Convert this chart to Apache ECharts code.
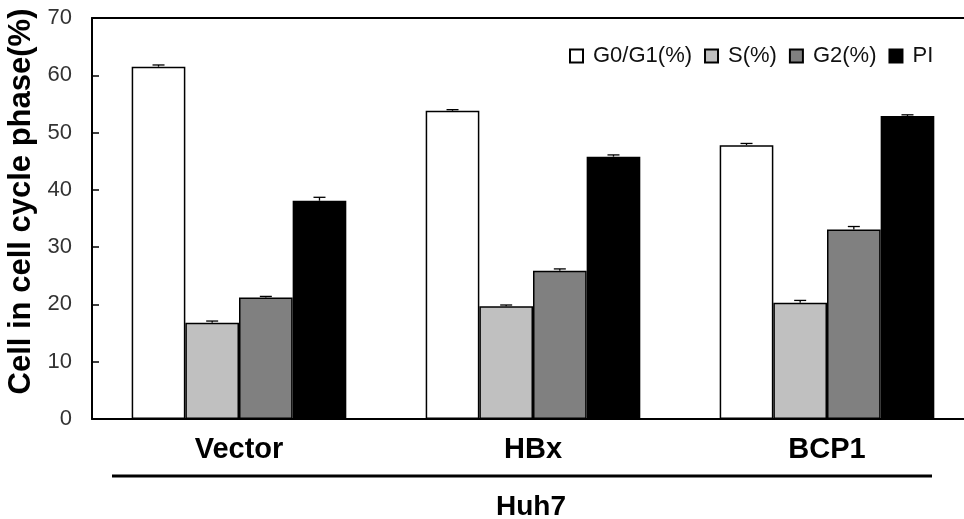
<!DOCTYPE html>
<html>
<head>
<meta charset="utf-8">
<script src="https://cdn.jsdelivr.net/npm/echarts@6/dist/echarts.min.js"></script>
<style>
  html, body { margin: 0; padding: 0; background: #fff; overflow: hidden; }
  #chart { width: 964px; height: 519px; }
</style>
</head>
<body>
<div id="chart"></div>
<script>
// Cell lines and cell-cycle phase shares (%)
const categories = ['Vector', 'HBx', 'BCP1'];
const seriesNames = ['G0/G1(%)', 'S(%)', 'G2(%)', 'PI'];
const g0g1 = [61.5, 53.8, 47.8];
const sPhase = [16.8, 19.7, 20.3];
const g2 = [21.2, 25.9, 33.1];
const pi = [38.1, 45.8, 52.9];
const g0g1Err = [0.3, 0.2, 0.3];
const sPhaseErr = [0.3, 0.2, 0.4];
const g2Err = [0.2, 0.3, 0.5];
const piErr = [0.6, 0.3, 0.2];
const yTicks = [0, 10, 20, 30, 40, 50, 60, 70];

const values = [g0g1, sPhase, g2, pi];
const errors = [g0g1Err, sPhaseErr, g2Err, piErr];
const fills = ['#ffffff', '#c0c0c0', '#808080', '#000000'];

const CAT_GAP = 0.27;

const barSeries = seriesNames.map((name, i) => ({
  name: name,
  type: 'bar',
  data: values[i],
  barGap: '0%',
  barCategoryGap: (CAT_GAP * 100) + '%',
  itemStyle: { color: fills[i], borderColor: '#000', borderWidth: 1.5 },
  emphasis: { disabled: true },
  z: 2
}));

// Upper error whiskers, placed over the matching bar in each group
const errData = [];
categories.forEach((c, ci) => {
  values.forEach((arr, si) => {
    errData.push([ci, arr[ci], errors[si][ci], si]);
  });
});

const errorSeries = {
  type: 'custom',
  name: 'err',
  data: errData,
  z: 5,
  silent: true,
  renderItem: function (params, api) {
    const ci = api.value(0);
    const v = api.value(1);
    const e = api.value(2);
    const si = api.value(3);
    const band = api.size([1, 0])[0];
    const total = band * (1 - CAT_GAP);
    const bw = total / seriesNames.length;
    const base = api.coord([ci, v]);
    const x = base[0] - total / 2 + (si + 0.5) * bw;
    const y0 = base[1];
    const y1 = api.coord([ci, v + e])[1];
    const half = 6;
    const style = { stroke: '#000', lineWidth: 1.3 };
    return {
      type: 'group',
      children: [
        { type: 'line', shape: { x1: x, y1: y0, x2: x, y2: y1 }, style: style },
        { type: 'line', shape: { x1: x - half, y1: y1, x2: x + half, y2: y1 }, style: style }
      ]
    };
  }
};

const chart = echarts.init(document.getElementById('chart'), null, { renderer: 'canvas' });
chart.setOption({
  animation: false,
  backgroundColor: '#fff',
  // the plot area runs past the right edge of the canvas, so keep it unclamped
  grid: { left: 92, top: 18, width: 882, height: 401, show: false, outerBoundsMode: 'none', containLabel: false },
  legend: {
    data: seriesNames,
    left: 564, top: 40,
    icon: 'rect',
    itemWidth: 13, itemHeight: 13, itemGap: 12,
    textStyle: { fontFamily: 'Liberation Sans', fontSize: 22, color: '#111', padding: [0, 0, 0, 5] }
  },
  xAxis: [{
    type: 'category',
    data: categories,
    axisLine: { lineStyle: { color: '#000', width: 2 } },
    axisTick: { show: false },
    axisLabel: {
      margin: 16,
      fontFamily: 'Liberation Sans', fontWeight: 'bold', fontSize: 29, color: '#000'
    }
  }, {
    // top frame line of the plot area
    type: 'category',
    position: 'top',
    data: categories,
    axisLine: { show: true, onZero: false, lineStyle: { color: '#000', width: 2 } },
    axisTick: { show: false },
    axisLabel: { show: false }
  }],
  yAxis: {
    type: 'value',
    min: yTicks[0], max: yTicks[yTicks.length - 1], interval: 10,
    name: 'Cell in cell cycle phase(%)',
    nameLocation: 'middle',
    nameGap: 44,
    nameTextStyle: {
      fontFamily: 'Liberation Sans', fontWeight: 'bold', fontSize: 31, color: '#000',
      padding: [0, 0, 0, 34]
    },
    axisLine: { show: true, lineStyle: { color: '#000', width: 2 } },
    axisTick: { show: true, inside: true, length: 7, lineStyle: { color: '#000', width: 1.5 } },
    splitLine: { show: false },
    axisLabel: { margin: 20, fontFamily: 'Liberation Sans', fontSize: 22, color: '#333' }
  },
  series: barSeries.concat([errorSeries]),
  graphic: [
    { type: 'line', shape: { x1: 112, y1: 476, x2: 932, y2: 476 }, style: { stroke: '#000', lineWidth: 3 } },
    { type: 'text', left: 496, top: 493,
      style: { text: 'Huh7', fontFamily: 'Liberation Sans', fontWeight: 'bold', fontSize: 28, fill: '#000' } }
  ]
});
</script>
</body>
</html>
